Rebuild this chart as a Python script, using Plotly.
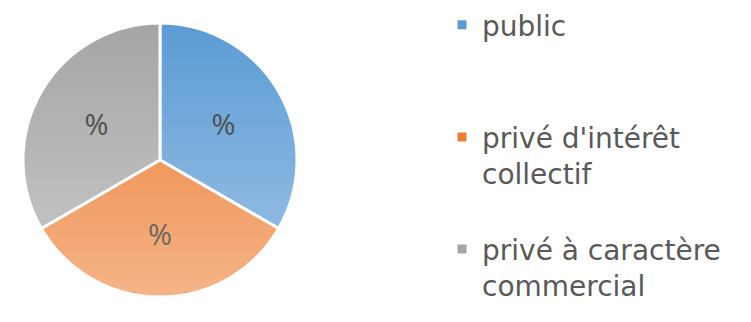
import base64
import plotly.graph_objects as go

# Chart data
categories = ["public", "privé d'intérêt<br>collectif", "privé à caractère<br>commercial"]
shares = [1, 1, 1]
slice_text = ["%", "%", "%"]
slice_colors = ["#5B9BD5", "#ED7D31", "#A5A5A5"]
# text colour per slice, slightly darker where the sheen overlay lightens it
text_colors = ["#303030", "#1a1a1a", "#303030"]

# Equal legend row heights: pad each entry to three lines
legend_names = []
for name in categories:
    n_lines = name.count("<br>") + 1
    legend_names.append(name + "<br> " * (3 - n_lines))

W, H = 751, 322
cx, cy, r = 160, 160, 137  # pie centre and radius in pixels

fig = go.Figure(
    go.Pie(
        labels=legend_names,
        values=shares,
        text=slice_text,
        textinfo="text",
        textposition="inside",
        insidetextorientation="horizontal",
        textfont=dict(family="Open Sans", size=29, color=text_colors),
        marker=dict(colors=slice_colors, line=dict(color="white", width=3)),
        sort=False,
        direction="clockwise",
        rotation=0,
        hoverinfo="skip",
        domain=dict(
            x=[(cx - r) / W, (cx + r) / W],
            y=[1 - (cy + r) / H, 1 - (cy - r) / H],
        ),
    )
)

# Soft vertical sheen over the pie (transparent at top, whitish at bottom)
svg = (
    '<svg xmlns="http://www.w3.org/2000/svg" width="100" height="100" '
    'viewBox="0 0 100 100" preserveAspectRatio="none"><defs>'
    '<linearGradient id="g" x1="0" y1="0" x2="0" y2="1">'
    '<stop offset="0" stop-color="#ffffff" stop-opacity="0"/>'
    '<stop offset="1" stop-color="#ffffff" stop-opacity="0.42"/>'
    '</linearGradient></defs>'
    '<rect width="100" height="100" fill="url(#g)"/></svg>'
)
sheen = "data:image/svg+xml;base64," + base64.b64encode(svg.encode()).decode()

fig.update_layout(
    width=W,
    height=H,
    margin=dict(l=0, r=0, t=0, b=0),
    paper_bgcolor="white",
    plot_bgcolor="white",
    showlegend=True,
    legend=dict(
        x=442 / W,
        xanchor="left",
        y=1 - 2 / H,
        yanchor="top",
        valign="top",
        maxheight=600,
        font=dict(family="DejaVu Sans", size=28, color="#595959"),
        bgcolor="rgba(0,0,0,0)",
        itemclick=False,
        itemdoubleclick=False,
    ),
    images=[
        dict(
            source=sheen,
            xref="paper",
            yref="paper",
            x=(cx - r) / W,
            y=1 - (cy - r) / H,
            sizex=2 * r / W,
            sizey=2 * r / H,
            xanchor="left",
            yanchor="top",
            sizing="stretch",
            layer="above",
        )
    ],
)

fig.write_html("out.html")
